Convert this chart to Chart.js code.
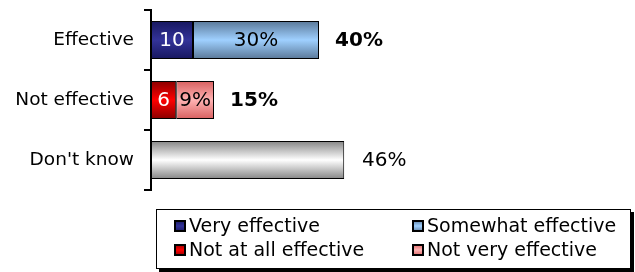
<!DOCTYPE html>
<html>
<head>
<meta charset="utf-8">
<script src="https://cdn.jsdelivr.net/npm/chart.js@4.4.1/dist/chart.umd.min.js"></script>
<style>
html,body{margin:0;padding:0;background:#fff;}
#wrap{position:relative;width:635px;height:272px;}
</style>
</head>
<body>
<div id="wrap"><canvas id="c" width="635" height="272"></canvas></div>
<script>
// ---- data ----
const categories = ["Effective", "Not effective", "Don't know"];
const veryEffective      = [10, null, null];
const somewhatEffective  = [30, null, null];
const notAtAllEffective  = [null, 6, null];
const notVeryEffective   = [null, 9, null];
const dontKnow           = [null, null, 46];
const segmentLabels = {
  "Very effective": ["10", null, null],
  "Somewhat effective": ["30%", null, null],
  "Not at all effective": [null, "6", null],
  "Not very effective": [null, "9%", null]
};
const totalLabels = ["40%", "15%", "46%"];
const totalBold = [true, true, false];
const legendOrder = ["Very effective", "Somewhat effective", "Not at all effective", "Not very effective"];

// ---- styles ----
const FONT = "'DejaVu Sans', Verdana, sans-serif";
const BAR_H = 38;
function grad(edge, mid) {
  return function (ctx) {
    const chart = ctx.chart;
    const ys = chart.scales && chart.scales.y;
    if (!ys || ctx.dataIndex === undefined) return mid;
    const cy = ys.getPixelForValue(ctx.dataIndex);
    if (!isFinite(cy)) return mid;
    const g = chart.ctx.createLinearGradient(0, cy - BAR_H / 2, 0, cy + BAR_H / 2);
    g.addColorStop(0, edge);
    g.addColorStop(0.5, mid);
    g.addColorStop(1, edge);
    return g;
  };
}
const styles = {
  "Very effective":       { edge: "#17175f", mid: "#333399", text: "#ffffff" },
  "Somewhat effective":   { edge: "#5a7898", mid: "#9fd0ff", text: "#000000" },
  "Not at all effective": { edge: "#8a0000", mid: "#ff0000", text: "#ffffff" },
  "Not very effective":   { edge: "#d86060", mid: "#ffb3b3", text: "#000000" },
  "Don't know":           { edge: "#858585", mid: "#ffffff", text: "#000000" }
};
function ds(label, data) {
  const s = styles[label];
  return {
    label, data,
    backgroundColor: grad(s.edge, s.mid),
    borderColor: "#000000",
    borderWidth: 1,
    borderSkipped: false,
    categoryPercentage: 1,
    barPercentage: BAR_H / 60
  };
}

const labelsPlugin = {
  id: "labelsPlugin",
  afterDatasetsDraw(chart) {
    const ctx = chart.ctx;
    ctx.save();
    ctx.textBaseline = "middle";
    ctx.textAlign = "center";
    chart.data.datasets.forEach((d, di) => {
      const meta = chart.getDatasetMeta(di);
      const labs = segmentLabels[d.label];
      if (!labs) return;
      meta.data.forEach((el, i) => {
        if (!labs[i]) return;
        const p = el.getProps(["x", "y", "base"], true);
        ctx.fillStyle = styles[d.label].text;
        ctx.font = "20px " + FONT;
        ctx.fillText(labs[i], (p.x + p.base) / 2, p.y + 1);
      });
    });
    // totals
    const xs = chart.scales.x, ys = chart.scales.y;
    categories.forEach((c, i) => {
      let total = 0;
      chart.data.datasets.forEach(d => { if (d.data[i] != null) total += d.data[i]; });
      const xEnd = xs.getPixelForValue(total);
      ctx.fillStyle = "#000";
      ctx.font = (totalBold[i] ? "bold " : "") + "20px " + FONT;
      ctx.fillText(totalLabels[i], xEnd + 40, ys.getPixelForValue(i) + 1);
    });
    // legend box
    const bx = 156, by = 209, bw = 475, bh = 60;
    ctx.fillStyle = "#000";
    ctx.fillRect(bx + 3, by + 3, bw, bh);
    ctx.fillStyle = "#fff";
    ctx.fillRect(bx, by, bw, bh);
    ctx.strokeStyle = "#000";
    ctx.lineWidth = 1;
    ctx.strokeRect(bx + 0.5, by + 0.5, bw - 1, bh - 1);
    const cols = [174, 412], rows = [226, 250];
    ctx.textAlign = "left";
    ctx.font = "19px " + FONT;
    legendOrder.forEach((name, k) => {
      const x = cols[k % 2], y = rows[Math.floor(k / 2)];
      const s = styles[name];
      const sz = 12;
      ctx.fillStyle = "#000";
      ctx.fillRect(x, y - sz / 2, sz, sz);
      const g = ctx.createLinearGradient(0, y - sz / 2, 0, y + sz / 2);
      g.addColorStop(0, s.edge); g.addColorStop(0.5, s.mid); g.addColorStop(1, s.edge);
      ctx.fillStyle = g;
      ctx.fillRect(x + 2, y - sz / 2 + 2, sz - 4, sz - 4);
      ctx.fillStyle = "#000";
      ctx.fillText(name, x + 15, y + 1);
    });
    ctx.restore();
  }
};

new Chart(document.getElementById("c"), {
  type: "bar",
  data: {
    labels: categories,
    datasets: [
      ds("Very effective", veryEffective),
      ds("Somewhat effective", somewhatEffective),
      ds("Not at all effective", notAtAllEffective),
      ds("Not very effective", notVeryEffective),
      ds("Don't know", dontKnow)
    ]
  },
  options: {
    indexAxis: "y",
    responsive: false,
    animation: false,
    layout: { padding: { top: 10, right: 64, bottom: 82, left: 0 } },
    plugins: { legend: { display: false }, tooltip: { enabled: false } },
    scales: {
      x: { stacked: true, display: false, min: 0, max: 100 },
      y: {
        stacked: true,
        offset: true,
        afterFit(scale) { scale.width = 151; scale.paddingTop = 0; scale.paddingBottom = 0; },
        grid: { offset: true, drawOnChartArea: false, color: "#000", lineWidth: 2, tickLength: 7, tickWidth: 2 },
        border: { display: true, color: "#000", width: 2 },
        ticks: { color: "#000", font: { family: FONT, size: 18.5 }, padding: 10 }
      }
    }
  },
  plugins: [labelsPlugin]
});
</script>
</body>
</html>
